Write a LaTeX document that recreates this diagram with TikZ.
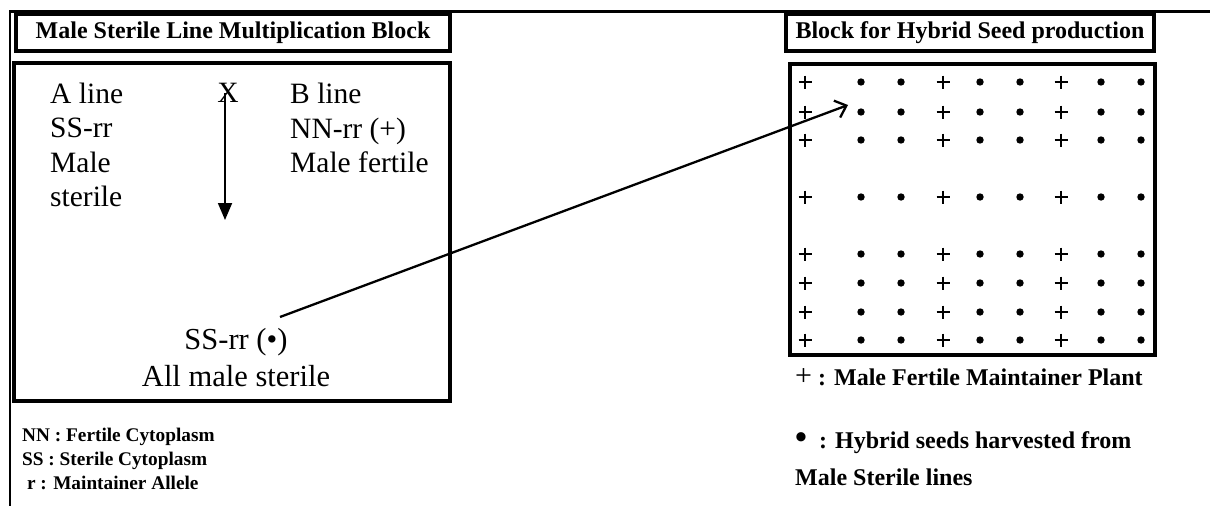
\documentclass[tikz,border=0pt]{standalone}
\usepackage{fontspec}
\setmainfont{Liberation Serif}
\usetikzlibrary{arrows.meta,positioning}
\begin{document}
\begin{tikzpicture}[x=1pt, y=-1pt,
  frame/.style={draw, line width=4.5pt},
  headbox/.style={draw, line width=4.5pt, inner sep=0pt, minimum height=37pt,
                  font=\fontsize{24}{28}\selectfont\bfseries},
  body/.style={inner sep=0pt, align=left, font=\fontsize{29.5}{34.5}\selectfont},
  keytext/.style={inner sep=0pt, anchor=west, align=left,
                  font=\fontsize{19.3}{24}\selectfont\bfseries},
  legend/.style={inner sep=0pt, anchor=west, align=left,
                 font=\fontsize{24}{37}\selectfont\bfseries},
  plusmark/.style={line width=2.4pt},
  >=Stealth
]
\useasboundingbox (0,0) rectangle (1210,506);

% page rules, top and left
\draw[line width=3pt] (10,11) -- (1210,11);
\draw[line width=2.5pt] (10,10) -- (10,506);

% block headings
\node[headbox, minimum width=434pt] (msTitle) at (233,32.5) {Male Sterile Line Multiplication Block};
\node[headbox, minimum width=368pt] (hyTitle) at (970,32.5) {Block for Hybrid Seed production};

% the two blocks
\draw[frame] (14,63) rectangle (450,401);
\draw[frame] (790,64) rectangle (1155,355);

% parents and cross
\node[body, anchor=west] (aLine) at (50,145) {A line\\SS-rr\\Male\\sterile};
\node[body] (cross) at (228,93) {X};
\node[body, anchor=west] (bLine) at (290,128) {B line\\NN-rr (+)\\Male fertile};
\coordinate (crossEnd) at (225,220);
\draw[line width=1.8pt, -{Triangle[length=17pt,width=14pt]}]
  (cross.center -| crossEnd) -- (crossEnd);

% progeny
\node[body, align=center, font=\fontsize{30.5}{37}\selectfont] (progeny) at (236,358)
  {SS-rr (\textbullet)\\All male sterile};

% seed production field: + maintainer rows, dots male sterile rows
\foreach \y in {82,112,140,197,254,283,312,340}{
  \foreach \x in {805,943,1061}{
    \draw[plusmark] (\x-6.5,\y) -- (\x+6.5,\y) (\x,\y-6.5) -- (\x,\y+6.5);
  }
  \foreach \x in {861,901,980,1020,1101,1141}{
    \fill (\x,\y) circle[radius=3.7pt];
  }
}

% arrow from progeny to the field
\coordinate (src) at (280,317);
\coordinate (tip) at (848,105);
\draw[line width=2.3pt, -{Straight Barb[length=10pt,width=18pt]}] (src) -- (tip);

% keys
\node[keytext] (cyto) at (22,459)
  {NN : Fertile Cytoplasm\\SS : Sterile Cytoplasm\\\ r : Maintainer Allele};
\node[legend] (keyPlus) at (795,377)
  {{\mdseries\fontsize{30}{30}\selectfont +} : Male Fertile Maintainer Plant};
\node[legend] (keyDot) at (795,458.5)
  {{\fontsize{34}{34}\selectfont\textbullet}\ \ : Hybrid seeds harvested from\\Male Sterile lines};

\end{tikzpicture}
\end{document}
